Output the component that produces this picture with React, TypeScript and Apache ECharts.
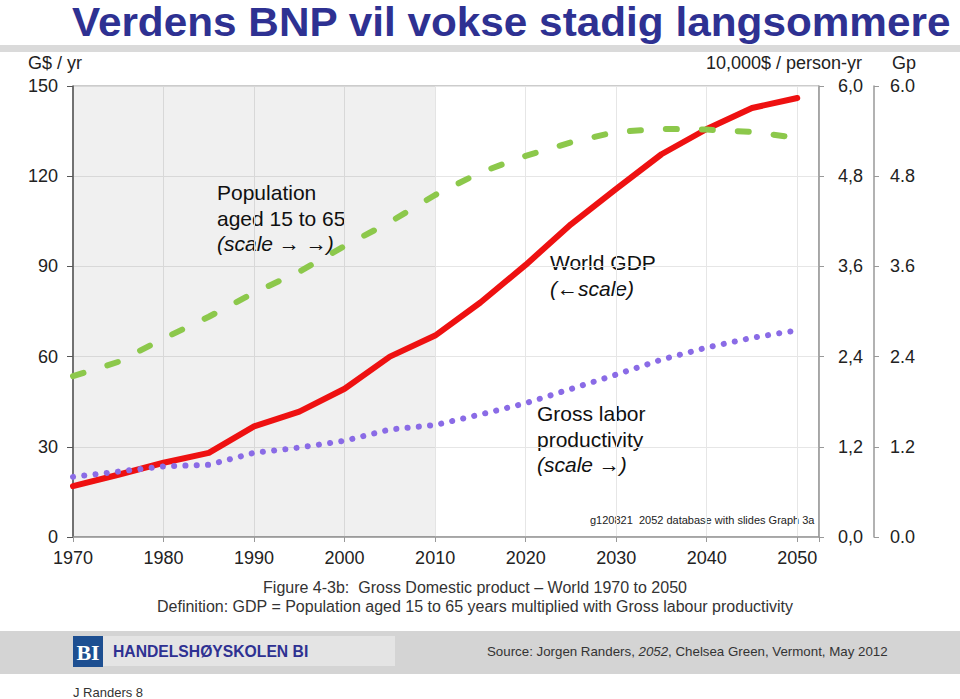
import React, { useEffect, useRef } from "react";
import * as echarts from "echarts";

const years = [1970, 1975, 1980, 1985, 1990, 1995, 2000, 2005, 2010, 2015, 2020, 2025, 2030, 2035, 2040, 2045, 2050];
const gdp = [16.9, 20.7, 24.7, 28, 36.8, 41.7, 49.3, 60, 67, 78, 90.5, 104, 115.8, 127.3, 135.7, 142.7, 146];
const population = [2.14, 2.33, 2.64, 2.93, 3.25, 3.53, 3.87, 4.19, 4.55, 4.85, 5.07, 5.25, 5.39, 5.43, 5.42, 5.39, 5.31];
const productivity = [0.8, 0.87, 0.94, 0.96, 1.12, 1.19, 1.28, 1.43, 1.49, 1.63, 1.78, 1.97, 2.16, 2.36, 2.52, 2.65, 2.75];
const historyEnd = 2010;

const FONT = '"Liberation Sans", Arial, Helvetica, sans-serif';

export default function App() {
  const ref = useRef<HTMLDivElement>(null);
  useEffect(() => {
    document.body.style.margin = "0";
    const chart = echarts.init(ref.current!, null, { renderer: "svg" });
    const txt = (x: number, y: number, text: string, extra: any = {}, el: any = {}) => ({
      type: "text",
      x,
      y,
      silent: true,
      ...el,
      style: { text, fontFamily: FONT, fontSize: 21, fill: "#111", verticalAlign: "middle", ...extra },
    });
    const option: any = {
      animation: false,
      backgroundColor: "#fff",
      textStyle: { fontFamily: FONT },
      grid: {
        left: 73,
        right: 141,
        top: 86,
        bottom: 162,
        show: true,
        borderColor: "#999",
        borderWidth: 1,
        backgroundColor: "transparent",
        containLabel: false,
        outerBoundsMode: "none",
      },
      xAxis: {
        type: "value",
        min: 1970,
        max: 2052.4,
        interval: 10,
        axisLine: { show: true, lineStyle: { color: "#999", width: 1.5 } },
        axisTick: { show: true, length: 5, lineStyle: { color: "#999" } },
        axisLabel: {
          fontSize: 18,
          color: "#222",
          margin: 12,
          fontFamily: FONT,
          formatter: (v: number) => (Math.abs(v % 10) < 1e-6 ? String(v) : ""),
        },
        splitLine: { show: true, lineStyle: { color: "#e6e6e6", width: 1 } },
      },
      yAxis: [
        {
          type: "value",
          min: 0,
          max: 150,
          interval: 30,
          position: "left",
          axisLine: { show: true, lineStyle: { color: "#555", width: 1.5 } },
          axisTick: { show: true, length: 6, lineStyle: { color: "#555" } },
          axisLabel: { fontSize: 18, color: "#222", margin: 15, fontFamily: FONT },
          splitLine: { show: true, lineStyle: { color: "#e6e6e6", width: 1 } },
        },
        {
          type: "value",
          min: 0,
          max: 6,
          interval: 1.2,
          position: "right",
          offset: 0,
          axisLine: { show: true, lineStyle: { color: "#999", width: 1.5 } },
          axisTick: { show: true, length: 5, inside: false, lineStyle: { color: "#999" } },
          axisLabel: {
            fontSize: 18,
            color: "#222",
            margin: 19,
            fontFamily: FONT,
            formatter: (v: number) => v.toFixed(1).replace(".", ","),
          },
          splitLine: { show: false },
        },
        {
          type: "value",
          min: 0,
          max: 6,
          interval: 1.2,
          position: "right",
          offset: 55,
          axisLine: { show: true, lineStyle: { color: "#999", width: 1.5 } },
          axisTick: { show: true, length: 5, inside: false, lineStyle: { color: "#999" } },
          axisLabel: {
            fontSize: 18,
            color: "#222",
            margin: 16,
            fontFamily: FONT,
            formatter: (v: number) => v.toFixed(1),
          },
          splitLine: { show: false },
        },
      ],
      series: [
        {
          type: "line",
          name: "World GDP",
          yAxisIndex: 0,
          data: years.map((y, i) => [y, gdp[i]]),
          symbol: "none",
          lineStyle: { color: "#ee1111", width: 6, join: "round", cap: "round" },
          markArea: {
            silent: true,
            itemStyle: { color: "rgba(0,0,0,0.06)" },
            data: [[{ xAxis: years[0] }, { xAxis: historyEnd }]],
          },
          z: 3,
        },
        {
          type: "line",
          name: "Gross labor productivity",
          yAxisIndex: 1,
          data: years.map((y, i) => [y, productivity[i]]),
          symbol: "none",
          lineStyle: { color: "#8a6be6", width: 6, type: [0.1, 11.2], cap: "round" },
          z: 4,
        },
        {
          type: "line",
          name: "Population aged 15 to 65",
          yAxisIndex: 2,
          data: years.map((y, i) => [y, population[i]]),
          symbol: "none",
          lineStyle: { color: "#8cc84b", width: 6, type: [11, 25], cap: "round" },
          z: 5,
        },
      ],
      graphic: [
        { type: "rect", silent: true, shape: { x: 0, y: 45, width: 960, height: 7 }, style: { fill: "#dadada" } },
        txt(
          72,
          22.5,
          "Verdens BNP vil vokse stadig langsommere",
          { fontSize: 40, fontWeight: "bold", fill: "#2e3192" },
          { scaleX: 1.058 }
        ),
        txt(28, 63, "G$ / yr", { fontSize: 18, fill: "#222" }),
        txt(862, 63, "10,000$ / person-yr", { fontSize: 18, fill: "#222", align: "right" }),
        txt(892, 63, "Gp", { fontSize: 18, fill: "#222" }),
        txt(217, 192, "Population"),
        txt(217, 218, "aged 15 to 65"),
        txt(217, 243, "(scale \u2192 \u2192)", { fontStyle: "italic" }),
        txt(550, 262, "World GDP"),
        txt(550, 288, "(\u2190scale)", { fontStyle: "italic" }),
        txt(537, 413, "Gross labor"),
        txt(537, 439, "productivity"),
        txt(537, 464, "(scale \u2192)", { fontStyle: "italic" }),
        txt(590, 520, "g120821  2052 database with slides Graph 3a", { fontSize: 11, fill: "#222" }),
        txt(475, 587, "Figure 4-3b:  Gross Domestic product \u2013 World 1970 to 2050", {
          fontSize: 16,
          fill: "#333",
          align: "center",
        }),
        txt(475, 606, "Definition: GDP = Population aged 15 to 65 years multiplied with Gross labour productivity", {
          fontSize: 16,
          fill: "#333",
          align: "center",
        }),
        { type: "rect", silent: true, shape: { x: 0, y: 631, width: 960, height: 43 }, style: { fill: "#d4d4d4" } },
        { type: "rect", silent: true, shape: { x: 103, y: 636, width: 292, height: 30 }, style: { fill: "#e4e4e4" } },
        { type: "rect", silent: true, shape: { x: 73, y: 636, width: 30, height: 31 }, style: { fill: "#1d4f91" } },
        txt(88, 652, "BI", {
          fontSize: 22,
          fontWeight: "bold",
          fontFamily: '"Liberation Serif", "DejaVu Serif", serif',
          fill: "#fff",
          align: "center",
        }),
        txt(113, 651, "HANDELSH\u00d8YSKOLEN BI", { fontSize: 15.7, fontWeight: "bold", fill: "#2e3192" }),
        {
          type: "text",
          x: 487,
          y: 651,
          silent: true,
          style: {
            text: "{a|Source: Jorgen Randers, }{b|2052}{a|, Chelsea Green, Vermont, May 2012}",
            verticalAlign: "middle",
            rich: {
              a: { fontSize: 13.3, fontFamily: FONT, fill: "#333", color: "#333" },
              b: { fontSize: 13.3, fontFamily: FONT, fill: "#333", color: "#333", fontStyle: "italic" },
            },
          },
        },
        txt(73, 692, "J Randers 8", { fontSize: 13, fill: "#333" }),
      ],
    };
    chart.setOption(option);
    return () => chart.dispose();
  }, []);
  return (
    <div
      ref={ref}
      style={{ position: "fixed", left: 0, top: 0, width: 960, height: 699, background: "#fff" }}
    />
  );
}
